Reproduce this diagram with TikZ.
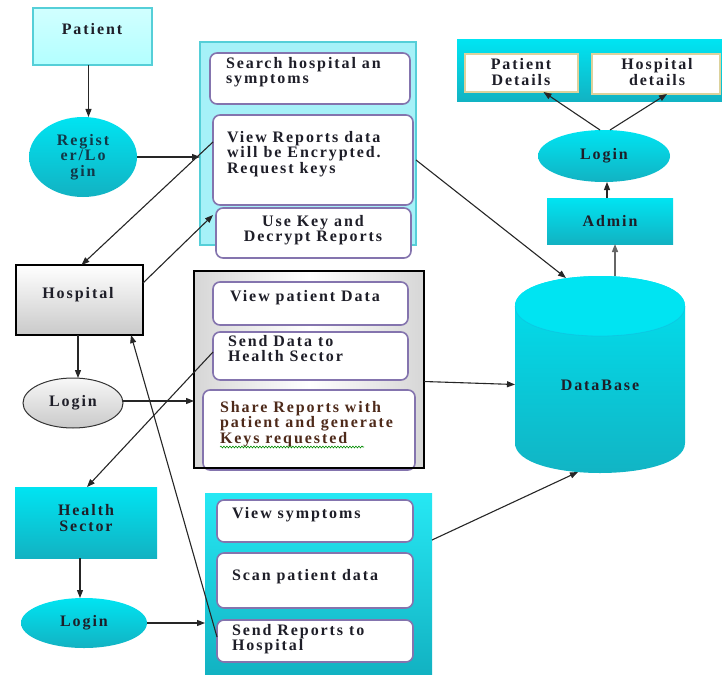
\documentclass[tikz,border=0pt]{standalone}
\usepackage{fontspec}
\setmainfont{Liberation Serif}[LetterSpace=12]
\usetikzlibrary{arrows.meta,shapes.geometric,decorations.pathmorphing}
\definecolor{cyTop}{HTML}{00E4F2}
\definecolor{cyBot}{HTML}{12B2C2}
\definecolor{cyLight}{HTML}{A6F1F8}
\definecolor{cyEdge}{HTML}{55CFD8}
\definecolor{pur}{HTML}{8474AE}
\definecolor{txt}{HTML}{1E1E28}
\definecolor{navy}{HTML}{123848}
\definecolor{tanedge}{HTML}{DCD29C}
\definecolor{brn}{HTML}{4E2A1A}
\begin{document}
\begin{tikzpicture}[x=1pt,y=-1pt,
  font=\fontsize{16}{15.5}\selectfont\bfseries, text=txt,
  every node/.style={inner sep=0pt, outer sep=0pt},
  box/.style={rectangle, anchor=north west},
  cybox/.style={box, top color=cyTop, bottom color=cyBot, draw=none},
  cyell/.style={ellipse, top color=cyTop, bottom color=cyBot, draw=none},
  ibox/.style={box, draw=pur, line width=1.6pt, fill=white, rounded corners=7pt},
  wbox/.style={box, draw=tanedge, line width=1.8pt, fill=white},
  lt/.style={anchor=north west, align=left},
  ct/.style={align=center},
  arr/.style={-{Triangle[length=8pt,width=6pt]}, line width=1.1pt, draw=black!85}
]
\useasboundingbox (0,0) rectangle (722,674);

% ---------- Patient column ----------
\node[box, top color=cyan!18, bottom color=cyan!30, draw=cyEdge, line width=1.2pt,
      minimum width=119, minimum height=57] (patient) at (33,8) {};
\node at (92,29) {Patient};
\node[cyell, minimum width=108, minimum height=80, ct, text=navy] (reg) at (83,157) {Regist\\er/Lo\\gin};

% ---------- Panel 1 ----------
\node[box, fill=cyLight, draw=cyEdge, line width=1.5pt, minimum width=216, minimum height=203] (pan1) at (200,42) {};
\node[ibox, minimum width=200, minimum height=51] (p1a) at (210,53) {};
\node[lt] at (226,57) {Search hospital an\\symptoms};
\node[ibox, minimum width=200, minimum height=90] (p1b) at (213,115) {};
\node[lt] at (227,131) {View Reports data\\will be Encrypted.\\Request keys};
\node[ibox, minimum width=195, minimum height=50] (p1c) at (216,208) {};
\node[ct] at (313,230) {Use Key and\\Decrypt Reports};

% ---------- Top right ----------
\node[cybox, minimum width=265, minimum height=62] (trp) at (457,40) {};
\node[wbox, minimum width=113, minimum height=38] (pd) at (465,54) {};
\node[ct] at (521,72) {Patient\\Details};
\node[wbox, minimum width=128, minimum height=40] (hd) at (592,54) {};
\node[ct] at (657,72) {Hospital\\details};
\node[cyell, minimum width=132, minimum height=52] (alog) at (604,156) {Login};
\node[cybox, minimum width=126, minimum height=46] (admin) at (547,198) {};
\node at (610,221) {Admin};

% ---------- Database ----------
\shade[top color=cyTop, bottom color=cyBot]
  (515,306) -- (515,443) .. controls (515,483) and (685,483) .. (685,443)
  -- (685,306) .. controls (685,266) and (515,266) .. (515,306) -- cycle;
\fill[cyTop] (515,306) .. controls (515,266) and (685,266) .. (685,306)
  .. controls (685,346) and (515,346) .. (515,306) -- cycle;
\draw[cyan!70!teal, opacity=0.3, line width=0.8pt] (515,306) .. controls (515,346) and (685,346) .. (685,306);
\node[minimum width=170, minimum height=197] (db) at (600,374.5) {};
\node at (600,385) {DataBase};
\coordinate (dbT) at (566,278);
\coordinate (dbB) at (578,472);

% ---------- Hospital column ----------
\node[box, top color=white, bottom color=gray!42, draw=black, line width=1.1pt,
      minimum width=127, minimum height=70] (hosp) at (16,265) {};
\node at (78,295) {Hospital};
\node[ellipse, top color=gray!6, bottom color=gray!42, draw=gray!40!black, line width=1pt,
      minimum width=100, minimum height=50] (glog) at (73,403) {Login};

% ---------- Panel 2 ----------
\node[box, left color=gray!32, right color=gray!32, middle color=white,
      minimum width=230, minimum height=197] (pan2) at (194,271) {};
\node[ibox, minimum width=195, minimum height=43] (p2a) at (213,282) {};
\node[lt] at (230,290) {View patient Data};
\node[ibox, minimum width=195, minimum height=48] (p2b) at (213,332) {};
\node[lt] at (228,335) {Send Data to\\Health Sector};
\node[ibox, minimum width=212, minimum height=80] (p2c) at (203,390) {};
\node[lt, text=brn] at (220,401) {Share Reports with\\patient and generate\\Keys requested};
\draw[green!55!black, line width=0.6pt, decorate, decoration={snake, amplitude=0.9pt, segment length=3pt}] (220,447) -- (364,447);
\draw[black, line width=1.3pt] (194,271) rectangle (424,468);

% ---------- Health sector column ----------
\node[cybox, minimum width=142, minimum height=71] (hs) at (15,487) {};
\node[ct] at (86,518) {Health\\Sector};
\node[cyell, minimum width=126, minimum height=50] (clog) at (84,623) {Login};
\node[box, top color=cyTop!85!white, bottom color=cyBot, minimum width=227, minimum height=181] (hpan) at (205,493) {};
\node[ibox, minimum width=196, minimum height=42] (hpa) at (217,500) {};
\node[lt] at (232,507) {View symptoms};
\node[ibox, minimum width=196, minimum height=55] (hpb) at (217,553) {};
\node[lt] at (232,569) {Scan patient data};
\node[ibox, minimum width=196, minimum height=42] (hpc) at (217,620) {};
\node[lt] at (232,624) {Send Reports to\\Hospital};

% ---------- Connectors ----------
\draw[arr] ([xshift=-4pt]patient.south) -- ([xshift=-4pt]patient.south |- reg.north);
\draw[arr] (reg.east) -- (reg.east -| pan1.west);
\draw[arr] ([yshift=18pt]p1b.west) -- ([xshift=2pt]hosp.north);
\draw[arr] ([yshift=17pt]hosp.east) -- ([xshift=-3pt,yshift=18pt]p1c.west);
\draw[arr] ([yshift=4pt]hpc.west) -- ([xshift=-12pt]hosp.south east);
\draw[arr] ([yshift=4pt]p2b.west) -- ([xshift=1pt]hs.north);
\draw[arr] ([xshift=-1.5pt]hosp.south) -- ([xshift=-1.5pt]hosp.south |- glog.north);
\draw[arr] ([yshift=2pt]glog.east) -- ([yshift=2pt]glog.east -| pan2.west);
\draw[arr] ([xshift=-6pt]hs.south) -- ([xshift=-6pt]hs.south |- clog.north);
\draw[arr] (clog.east) -- (clog.east -| hpan.west);
\draw[arr] ([xshift=-3pt]admin.north) -- ([xshift=-3pt]admin.north |- alog.south);
\draw[arr] ([xshift=-4pt]alog.north) -- ([xshift=22pt]pd.south);
\draw[arr] ([xshift=6pt]alog.north) -- ([xshift=11pt]hd.south);
\draw[arr, draw=black!60, line width=1.4pt] ([xshift=15pt]db.north) -- ([xshift=5pt]admin.south);
\draw[arr] (p1b.east -| pan1.east) -- (dbT);
\draw[arr] ([yshift=-12pt]pan2.east) -- ([yshift=-10pt]db.west);
\draw[arr] ([yshift=43.5pt]hpan.east) -- (dbB);
\end{tikzpicture}
\end{document}
